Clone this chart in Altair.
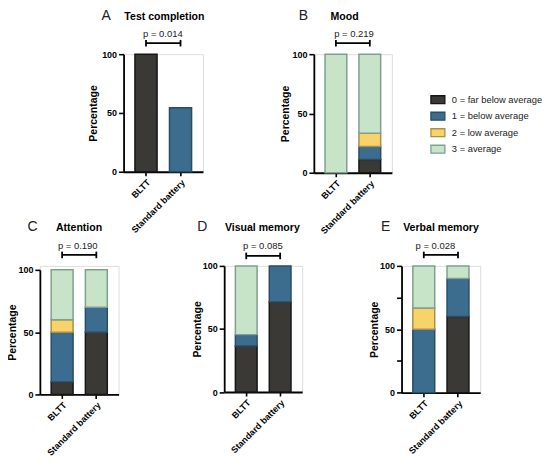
import altair as alt
import pandas as pd

FONT = "Liberation Sans"

# ---------------- data ----------------
methods = ["BLTT", "Standard battery"]
levels = ["0 = far below average", "1 = below average", "2 = low average", "3 = average"]
letters = ["A", "B", "C", "D", "E"]
titles = ["Test completion", "Mood", "Attention", "Visual memory", "Verbal memory"]
p_values = ["p = 0.014", "p = 0.219", "p = 0.190", "p = 0.085", "p = 0.028"]

completion_pct = [100, 54.5]          # BLTT, Standard battery
mood_bltt = [0, 0, 0, 100]            # levels 0..3
mood_std = [11.1, 11.1, 11.1, 66.7]
attention_bltt = [10, 40, 10, 40]
attention_std = [50, 20, 0, 30]
visual_bltt = [36.4, 9.1, 0, 54.5]
visual_std = [71.4, 28.6, 0, 0]
verbal_bltt = [0, 50, 16.7, 33.3]
verbal_std = [60, 30, 0, 10]

# ---------------- style ----------------
level_fill = ["#3a3936", "#3d6d8e", "#f8d36a", "#c8e4c8"]
level_stroke = ["#161616", "#2a4d66", "#a98f4c", "#7f9f92"]

cfg = {
    "A": dict(w=79.7, h=118, top=0, lx=-17.5, tx=41, px=39.5, base=-34.3, pbase=-17.6, br=-11, tpad=3, minor=False),
    "B": dict(w=78.3, h=119, top=0, lx=-10.4, tx=30.8, px=40.3, base=-34.3, pbase=-17.6, br=-11, tpad=1, minor=False),
    "C": dict(w=79, h=129, top=4, lx=-7.5, tx=39.3, px=38, base=-34.6, pbase=-16.7, br=-11, tpad=0, minor=False),
    "D": dict(w=78.3, h=126.6, top=0, lx=-22, tx=38.3, px=38.8, base=-35.2, pbase=-16.7, br=-10, tpad=0, minor=False),
    "E": dict(w=79, h=127.3, top=0, lx=-16, tx=39.6, px=34, base=-35, pbase=-16.7, br=-11, tpad=0, minor=True),
}


def stacked_df(bltt, std):
    rows = []
    for m, vals in zip(methods, [bltt, std]):
        for i, (lv, v) in enumerate(zip(levels, vals)):
            if v > 0:
                rows.append({"method": m, "lvl": i, "level": lv, "pct": v})
    return pd.DataFrame(rows)


def make_panel(key, idx, df, fill_field, fill_dom, fill_rng, stroke_rng):
    c = cfg[key]
    xscale = alt.Scale(domain=methods, paddingInner=0.36, paddingOuter=0.33)
    xaxis = alt.Axis(title=None, labelAngle=-45, labelFont=FONT, labelFontWeight="bold",
                     labelFontSize=9, labelColor="black", labelPadding=2, tickSize=4,
                     tickWidth=1.6, tickColor="black", domainColor="black", domainWidth=1.8,
                     grid=False)
    yvals = [0, 25, 50, 75, 100] if c["minor"] else [0, 50, 100]
    yaxis = alt.Axis(title="Percentage", values=yvals,
                     labelExpr="datum.value % 50 == 0 ? datum.label : ''",
                     labelFont=FONT, labelFontWeight="bold", labelFontSize=9, labelColor="black",
                     labelPadding=2, tickSize=5, tickWidth=1.6, tickColor="black",
                     domainColor="black", domainWidth=1.8, grid=False,
                     titleFont=FONT, titleFontWeight="bold", titleFontSize=10.5,
                     titleColor="black", titlePadding=c["tpad"])
    yscale = alt.Scale(domain=[0, 100], range=[c["h"], c["top"]], nice=False)
    X = alt.X("method:N", scale=xscale, axis=xaxis, sort=methods)

    bars = alt.Chart(df).mark_bar(strokeWidth=1.5).encode(
        x=X,
        y=alt.Y("pct:Q", stack="zero", scale=yscale, axis=yaxis),
        fill=alt.Fill(fill_field + ":N", scale=alt.Scale(domain=fill_dom, range=fill_rng), legend=None),
        stroke=alt.Stroke(fill_field + ":N", scale=alt.Scale(domain=fill_dom, range=stroke_rng), legend=None),
        order=alt.Order("lvl:Q", sort="ascending"),
    )

    br_df = pd.DataFrame({"method": [methods[0]], "method_end": [methods[1]]})
    bracket = alt.Chart(br_df).mark_rule(color="black", strokeWidth=1.8).encode(
        x=X, x2="method_end:N", y=alt.value(c["br"]))
    ends = alt.Chart(pd.DataFrame({"method": methods})).mark_rule(color="black", strokeWidth=1.8).encode(
        x=X, y=alt.value(c["br"] - 3.3), y2=alt.value(c["br"] + 3.3))
    ptext = alt.Chart(pd.DataFrame({"t": [p_values[idx]]})).mark_text(
        font=FONT, fontSize=9.5, color="#222", align="center", baseline="alphabetic").encode(
        x=alt.value(c["px"]), y=alt.value(c["pbase"]), text="t:N")
    letter = alt.Chart(pd.DataFrame({"t": [letters[idx]]})).mark_text(
        font=FONT, fontSize=14, color="#222", align="center", baseline="alphabetic").encode(
        x=alt.value(c["lx"]), y=alt.value(c["base"]), text="t:N")
    title = alt.Chart(pd.DataFrame({"t": [titles[idx]]})).mark_text(
        font=FONT, fontSize=10.6, fontWeight="bold", color="black", align="center", baseline="alphabetic").encode(
        x=alt.value(c["tx"]), y=alt.value(c["base"]), text="t:N")

    return alt.layer(bars, bracket, ends, ptext, letter, title).properties(width=c["w"], height=c["h"])


# panel A
df_a = pd.DataFrame({"method": methods, "pct": completion_pct, "lvl": [0, 1]})
panel_a = make_panel("A", 0, df_a, "method", methods, level_fill[:2], level_stroke[:2])
panel_b = make_panel("B", 1, stacked_df(mood_bltt, mood_std), "level", levels, level_fill, level_stroke)
panel_c = make_panel("C", 2, stacked_df(attention_bltt, attention_std), "level", levels, level_fill, level_stroke)
panel_d = make_panel("D", 3, stacked_df(visual_bltt, visual_std), "level", levels, level_fill, level_stroke)
panel_e = make_panel("E", 4, stacked_df(verbal_bltt, verbal_std), "level", levels, level_fill, level_stroke)

# legend
leg_df = pd.DataFrame({"level": levels})
leg_y = alt.Y("level:N", sort=levels, axis=None,
              scale=alt.Scale(type="point", domain=levels, range=[45.7, 95.4], padding=0))
leg_sym = alt.Chart(leg_df).mark_point(
    shape="M-1,-0.57H1V0.57H-1Z", filled=True, size=196, strokeWidth=1.3, opacity=1).encode(
    x=alt.value(36.5), y=leg_y,
    fill=alt.Fill("level:N", scale=alt.Scale(domain=levels, range=level_fill), legend=None),
    stroke=alt.Stroke("level:N", scale=alt.Scale(domain=levels, range=level_stroke), legend=None),
)
leg_txt = alt.Chart(leg_df).mark_text(font=FONT, fontSize=9.4, color="#222", align="left",
                                      baseline="middle").encode(
    x=alt.value(50.5), y=leg_y, text="level:N")
legend = alt.layer(leg_sym, leg_txt).properties(width=128, height=119,
                                                 view=alt.ViewBackground(stroke=None, strokeWidth=0))


def spacer(w, h):
    return alt.Chart(pd.DataFrame({"v": [0]})).mark_point(opacity=0).properties(
        width=w, height=h, view=alt.ViewBackground(stroke=None, strokeWidth=0))


chart = alt.concat(
    spacer(83.3, 119), panel_a, spacer(90, 119), panel_b, legend,
    panel_c, spacer(100.7, 1), panel_d, spacer(87.3, 1), panel_e,
    columns=5, spacing={"row": 93.5, "column": 0}, bounds="flush", align="each",
).resolve_scale(fill="independent", stroke="independent").properties(
    padding={"left": -1, "top": -0.5, "right": 0, "bottom": 5}
).configure_view(stroke=None, strokeWidth=0).configure(background="white")

chart.save("out.html", embed_options={"renderer": "svg", "actions": False})
